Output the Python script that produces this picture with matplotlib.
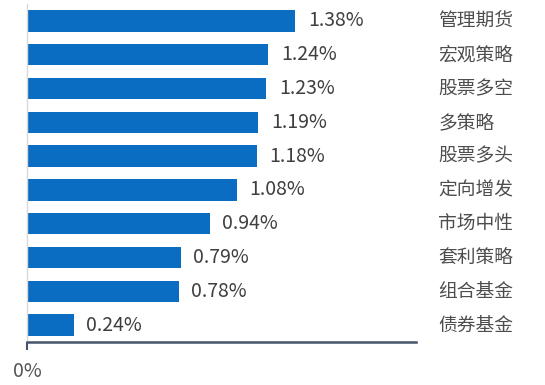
import matplotlib.pyplot as plt
import matplotlib.transforms as mtransforms

plt.rcParams['font.family'] = ['Noto Sans CJK SC', 'DejaVu Sans']

# data, top to bottom
categories = ['管理期货', '宏观策略', '股票多空', '多策略', '股票多头',
              '定向增发', '市场中性', '套利策略', '组合基金', '债券基金']
values = [1.38, 1.24, 1.23, 1.19, 1.18, 1.08, 0.94, 0.79, 0.78, 0.24]
value_labels = ['1.38%', '1.24%', '1.23%', '1.19%', '1.18%',
                '1.08%', '0.94%', '0.79%', '0.78%', '0.24%']

W, H = 545, 385
fig = plt.figure(figsize=(W / 100, H / 100), dpi=100)
ax = fig.add_axes([27 / W, 43 / H, 389 / W, 338 / H])

ypos = list(range(len(categories)))
ax.barh(ypos, values, height=0.63, color='#0b6dc1')
ax.set_ylim(len(categories) - 0.5, -0.5)
ax.set_xlim(0, 2.0)

for y, v, lab in zip(ypos, values, value_labels):
    ax.text(v + 0.065, y, lab, va='center', ha='left', fontsize=14,
            color='#3f3f3f', fontweight='medium')

trans = mtransforms.blended_transform_factory(ax.transAxes, ax.transData)
for y, cat in zip(ypos, categories):
    ax.text(1.057, y, cat, transform=trans, va='center', ha='left',
            fontsize=13.5, color='#4d4d4d', fontweight='medium')

for s in ['top', 'right']:
    ax.spines[s].set_visible(False)
ax.spines['left'].set_color('#d9d9d9')
ax.spines['left'].set_linewidth(1.0)
ax.spines['bottom'].set_color('#44546a')
ax.spines['bottom'].set_linewidth(1.8)

ax.set_yticks([])
ax.set_xticks([0])
ax.set_xticklabels(['0%'])
ax.tick_params(axis='x', length=6, width=1.5, color='#44546a', pad=8,
               labelsize=14, labelcolor='#555555')

fig.savefig('out.png', dpi=100)
